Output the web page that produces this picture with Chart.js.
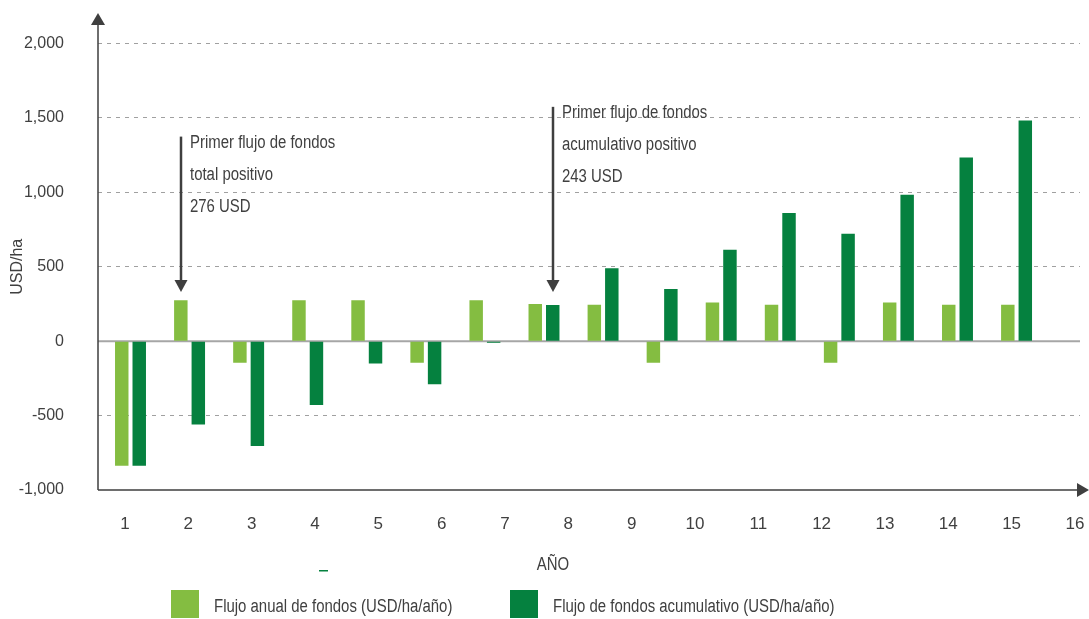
<!DOCTYPE html>
<html>
<head>
<meta charset="utf-8">
<script src="https://cdn.jsdelivr.net/npm/chart.js@4.4.0/dist/chart.umd.min.js"></script>
<style>
  html, body { margin: 0; padding: 0; background: #fff; }
  #wrap { width: 1089px; height: 619px; }
</style>
</head>
<body>
<div id="wrap"><canvas id="flujo"></canvas></div>
<script>
const years = [1, 2, 3, 4, 5, 6, 7, 8, 9, 10, 11, 12, 13, 14, 15, 16];
const annual = [-837, 276, -145, 276, 276, -145, 276, 250, 245, -145, 260, 245, -145, 260, 245, 245];
const cumulative = [-837, -560, -705, -428, -150, -290, -10, 243, 490, 350, 615, 862, 722, 985, 1234, 1484];
const yTicks = [-1000, -500, 0, 500, 1000, 1500, 2000];
const seriesNames = ['Flujo anual de fondos (USD/ha/año)', 'Flujo de fondos acumulativo (USD/ha/año)'];
const notes = [
    { lines: ['Primer flujo de fondos', 'total positivo', '276 USD'], dataset: 0, index: 1, from: 1375, to: 330 },
    { lines: ['Primer flujo de fondos', 'acumulativo positivo', '243 USD'], dataset: 1, index: 7, from: 1575, to: 330 }
];

const LIGHT = '#84bd41';
const DARK = '#05813f';
const FONT = "'Liberation Sans', Arial, sans-serif";
const NARROW = 0.83; // squeeze plugin text horizontally, the original uses a narrow face

function arrowHead(ctx, x, y, dir) {
    ctx.beginPath();
    if (dir === 'down') {
        ctx.moveTo(x, y); ctx.lineTo(x - 6.5, y - 12); ctx.lineTo(x + 6.5, y - 12);
    } else if (dir === 'up') {
        ctx.moveTo(x, y); ctx.lineTo(x - 7, y + 12); ctx.lineTo(x + 7, y + 12);
    } else {
        ctx.moveTo(x, y); ctx.lineTo(x - 12, y - 7); ctx.lineTo(x - 12, y + 7);
    }
    ctx.closePath();
    ctx.fill();
}

function narrowText(ctx, text, x, y) {
    ctx.save();
    ctx.translate(x, y);
    ctx.scale(NARROW, 1);
    ctx.fillText(text, 0, 0);
    ctx.restore();
}

const decor = {
    id: 'decor',
    beforeDatasetsDraw(chart) {
        const { ctx, chartArea, scales } = chart;
        const y0 = scales.y.getPixelForValue(0);
        ctx.save();
        ctx.strokeStyle = '#a6a6a6';
        ctx.lineWidth = 2;
        ctx.beginPath();
        ctx.moveTo(chartArea.left, y0);
        ctx.lineTo(chartArea.right, y0);
        ctx.stroke();
        ctx.restore();
    },
    afterDraw(chart) {
        const { ctx, chartArea, scales } = chart;
        const yb = scales.y.getPixelForValue(-1000);
        ctx.save();
        // axes with arrows
        ctx.strokeStyle = '#3f3f3f';
        ctx.fillStyle = '#3f3f3f';
        ctx.lineWidth = 1.5;
        ctx.beginPath();
        ctx.moveTo(chartArea.left, yb);
        ctx.lineTo(chartArea.left, 20);
        ctx.moveTo(chartArea.left, yb);
        ctx.lineTo(1082, yb);
        ctx.stroke();
        arrowHead(ctx, chartArea.left, 13, 'up');
        arrowHead(ctx, 1089, yb, 'right');

        // annotations
        ctx.font = '18px ' + FONT;
        ctx.textBaseline = 'middle';
        ctx.textAlign = 'left';
        notes.forEach(n => {
            const bar = chart.getDatasetMeta(n.dataset).data[n.index];
            const x = Math.round(bar.x);
            const top = scales.y.getPixelForValue(n.from);
            const tip = scales.y.getPixelForValue(n.to);
            ctx.strokeStyle = '#3f3f3f';
            ctx.lineWidth = 2.5;
            ctx.beginPath();
            ctx.moveTo(x, top);
            ctx.lineTo(x, tip - 8);
            ctx.stroke();
            ctx.fillStyle = '#3f3f3f';
            arrowHead(ctx, x, tip, 'down');
            ctx.fillStyle = '#404040';
            n.lines.forEach((t, i) => narrowText(ctx, t, x + 9, top + 6 + i * 32));
        });

        // axis title
        ctx.fillStyle = '#404040';
        ctx.textAlign = 'center';
        narrowText(ctx, 'AÑO', 553, 565);
        ctx.fillStyle = DARK;
        ctx.fillRect(319, 570, 9, 1.5);

        // legend
        const items = [
            { box: 171, color: LIGHT, text: seriesNames[0] },
            { box: 510, color: DARK, text: seriesNames[1] }
        ];
        ctx.textAlign = 'left';
        items.forEach(it => {
            ctx.fillStyle = it.color;
            ctx.fillRect(it.box, 590, 28, 28);
            ctx.fillStyle = '#404040';
            narrowText(ctx, it.text, it.box + 43, 607);
        });
        ctx.restore();
    }
};

const config = {
    type: 'bar',
    data: {
        datasets: [{
            label: seriesNames[0],
            data: years.map((yr, i) => ({ x: yr, y: annual[i] })),
            backgroundColor: LIGHT,
            borderWidth: 0
        }, {
            label: seriesNames[1],
            data: years.map((yr, i) => ({ x: yr, y: cumulative[i] })),
            backgroundColor: DARK,
            borderWidth: 0
        }]
    },
    options: {
        responsive: true,
        maintainAspectRatio: false,
        animation: false,
        categoryPercentage: 0.592,
        barPercentage: 0.77,
        layout: { padding: { top: 38, right: 9, left: 0, bottom: 0 } },
        scales: {
            x: {
                type: 'linear',
                min: 0.4498,
                max: 17.074,
                offset: false,
                grid: { offset: false },
                display: false
            },
            x2: {
                type: 'linear',
                position: 'bottom',
                min: 0.574,
                max: 16.08,
                offset: false,
                grid: { display: false, drawTicks: false, offset: false },
                border: { display: false },
                afterBuildTicks: s => { s.ticks = years.map(v => ({ value: v })); },
                afterFit: s => { s.height = 129; s.paddingLeft = 0; s.paddingRight = 0; },
                ticks: {
                    autoSkip: false,
                    maxRotation: 0,
                    padding: 24,
                    color: '#404040',
                    font: { family: FONT, size: 17 }
                }
            },
            y: {
                min: -1000,
                max: 2000,
                afterBuildTicks: s => { s.ticks = yTicks.map(v => ({ value: v })); },
                afterFit: s => { s.width = 98; },
                grid: {
                    drawTicks: false,
                    lineWidth: 1,
                    color: c => (c.tick && (c.tick.value === 0 || c.tick.value === -1000)) ? 'rgba(0,0,0,0)' : '#a0a0a0'
                },
                border: { display: false, dash: [4, 5] },
                ticks: {
                    padding: 34,
                    color: '#404040',
                    font: { family: FONT, size: 16 },
                    callback: v => v.toLocaleString('en-US')
                },
                title: {
                    display: true,
                    text: 'USD/ha',
                    color: '#404040',
                    font: { family: FONT, size: 16 },
                    padding: { top: 8, bottom: 0 }
                }
            }
        },
        plugins: {
            legend: { display: false },
            tooltip: { enabled: false }
        }
    },
    plugins: [decor]
};

new Chart(document.getElementById('flujo'), config);
</script>
</body>
</html>
